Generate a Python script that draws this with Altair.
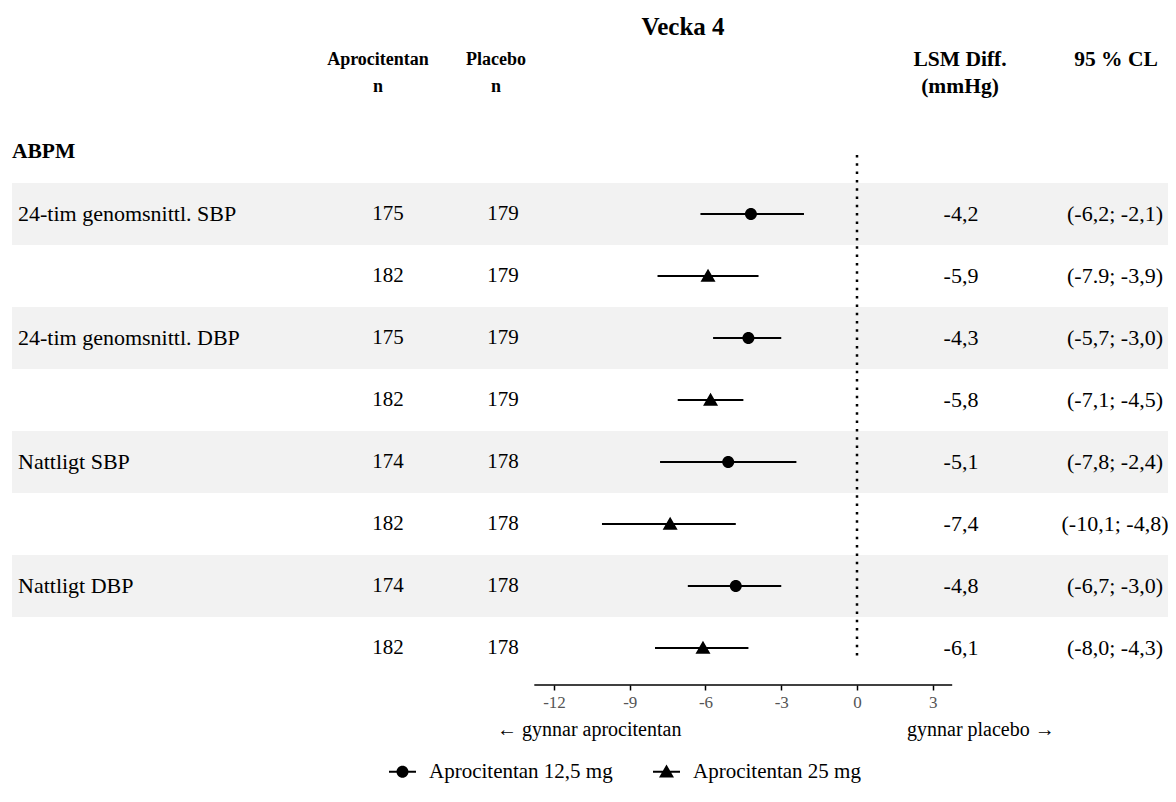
import altair as alt
import pandas as pd

# ---------------- data ----------------
row_labels = ["24-tim genomsnittl. SBP", "", "24-tim genomsnittl. DBP", "",
              "Nattligt SBP", "", "Nattligt DBP", ""]
doses = ["Aprocitentan 12,5 mg", "Aprocitentan 25 mg"] * 4
n_apro = [175, 182, 175, 182, 174, 182, 174, 182]
n_plac = [179, 179, 179, 179, 178, 178, 178, 178]
lsm = [-4.2, -5.9, -4.3, -5.8, -5.1, -7.4, -4.8, -6.1]
ci_lo = [-6.2, -7.9, -5.7, -7.1, -7.8, -10.1, -6.7, -8.0]
ci_hi = [-2.1, -3.9, -3.0, -4.5, -2.4, -4.8, -3.0, -4.3]
lsm_text = ["-4,2", "-5,9", "-4,3", "-5,8", "-5,1", "-7,4", "-4,8", "-6,1"]
ci_text = ["(-6,2; -2,1)", "(-7.9; -3,9)", "(-5,7; -3,0)", "(-7,1; -4,5)",
           "(-7,8; -2,4)", "(-10,1; -4,8)", "(-6,7; -3,0)", "(-8,0; -4,3)"]
x_ticks = [-12, -9, -6, -3, 0, 3]
dose_levels = ["Aprocitentan 12,5 mg", "Aprocitentan 25 mg"]
section = "ABPM"
title_text = "Vecka 4"

rows = list(range(1, len(lsm) + 1))
df = pd.DataFrame({
    "row": rows, "label": row_labels, "dose": doses,
    "n_apro": [str(v) for v in n_apro], "n_plac": [str(v) for v in n_plac],
    "lsm": lsm, "lo": ci_lo, "hi": ci_hi,
    "lsm_text": lsm_text, "ci_text": ci_text,
})
bands = pd.DataFrame({"y0": [r - 0.5 for r in rows if r % 2 == 1],
                      "y1": [r + 0.5 for r in rows if r % 2 == 1]})

# ---------------- layout constants ----------------
W, H = 1160, 677
FONT = "Liberation Serif"
PX_PER_UNIT = 25.25
ZERO_PX = 849
xdom = [-ZERO_PX / PX_PER_UNIT, (W - ZERO_PX) / PX_PER_UNIT]
ROW0_PX, ROW_STEP = 144, 62
ydom = [-ROW0_PX / ROW_STEP, (H - ROW0_PX) / ROW_STEP]
AXIS_MIN, AXIS_MAX = -12.78, 3.77

xscale = alt.Scale(domain=xdom, nice=False, zero=False)
yscale = alt.Scale(domain=ydom, nice=False, zero=False, reverse=True)
xaxis = alt.Axis(values=x_ticks, domain=False, grid=False, title=None,
                 tickColor="black", tickSize=5, tickWidth=1.5,
                 labelFont=FONT, labelFontSize=17, labelColor="#555555",
                 labelPadding=4, labelExpr="'' + datum.value")


def X(field):
    return alt.X(field, scale=xscale, axis=xaxis)


def Y(field):
    return alt.Y(field, scale=yscale, axis=None)


base = alt.Chart(df)

band_layer = alt.Chart(bands).mark_rect(color="#f2f2f2").encode(
    x=alt.value(4), x2=alt.value(W), y=Y("y0:Q"), y2="y1:Q")

zero_line = alt.Chart(pd.DataFrame({"z": [0]})).mark_rule(
    color="black", strokeWidth=2.5, strokeDash=[2.5, 5.8]).encode(
    x=X("z:Q"), y=alt.value(147), y2=alt.value(648))

axis_line = alt.Chart(pd.DataFrame({"a": [AXIS_MIN], "b": [AXIS_MAX]})).mark_rule(
    color="black", strokeWidth=1.5).encode(x=X("a:Q"), x2="b:Q", y=alt.value(H))

ci = base.mark_rule(color="black", strokeWidth=2).encode(
    x=X("lo:Q"), x2="hi:Q", y=Y("row:Q"))

bar_path = "M-2.7,-0.2H2.7V0.2H-2.7Z"
circle_path = bar_path + "M1.2,0A1.2,1.2,0,1,1,-1.2,0A1.2,1.2,0,1,1,1.2,0Z"
tri_path = bar_path + "M0,-1.45L1.5,1.15L-1.5,1.15Z"

points = base.mark_point(filled=True, size=100, fill="black", strokeWidth=0,
                         opacity=1).encode(
    x=X("lsm:Q"), y=Y("row:Q"),
    shape=alt.Shape("dose:N",
                    scale=alt.Scale(domain=dose_levels, range=[circle_path, tri_path]),
                    legend=alt.Legend(orient="none", legendX=384, legendY=753,
                                      direction="horizontal", title=None,
                                      labelFont=FONT, labelFontSize=21,
                                      labelColor="black", labelLimit=0,
                                      symbolSize=100, symbolStrokeWidth=0,
                                      symbolFillColor="black", symbolOpacity=1,
                                      labelOffset=16, columnPadding=40,
                                      padding=0)))


def text_col(field, xpx, align="center", bold=False, size=21):
    return base.mark_text(font=FONT, fontSize=size, align=align, baseline="middle",
                          fontWeight="bold" if bold else "normal",
                          color="black").encode(
        text=f"{field}:N", x=alt.value(xpx), y=Y("row:Q"))


labels_layer = text_col("label", 10, align="left", size=22)
napro_layer = text_col("n_apro", 380)
nplac_layer = text_col("n_plac", 495)
lsm_layer = text_col("lsm_text", 953, size=22)
ci_layer = text_col("ci_text", 1107, size=22)


def fixed_text(txt, xpx, ypx, size=18, bold=True, align="center"):
    return alt.Chart(pd.DataFrame({"t": [txt]})).mark_text(
        font=FONT, fontSize=size, fontWeight="bold" if bold else "normal",
        align=align, baseline="middle", color="black").encode(
        text="t:N", x=alt.value(xpx), y=alt.value(ypx))


headers = [
    fixed_text(title_text, 675, 19, size=25),
    fixed_text("Aprocitentan", 370, 52),
    fixed_text("n", 370, 79),
    fixed_text("Placebo", 488, 52),
    fixed_text("n", 488, 79),
    fixed_text("LSM Diff.", 952, 52, size=21.5),
    fixed_text("(mmHg)", 952, 79, size=21.5),
    fixed_text("95 % CL", 1108, 52, size=21.5),
    fixed_text(section, 4, 144, size=21.5, align="left"),
    fixed_text("← gynnar aprocitentan", 489, 722, size=20, bold=False, align="left"),
    fixed_text("gynnar placebo →", 899, 722, size=20, bold=False, align="left"),
]

chart = alt.layer(
    band_layer, zero_line, axis_line, ci, points,
    labels_layer, napro_layer, nplac_layer, lsm_layer, ci_layer, *headers
).properties(
    width=W, height=H,
    autosize=alt.AutoSizeParams(type="none"),
    padding={"left": 0, "top": 0, "right": 0, "bottom": 104},
).configure_view(stroke=None)

chart.save("out.html", embed_options={"renderer": "svg", "actions": False})
